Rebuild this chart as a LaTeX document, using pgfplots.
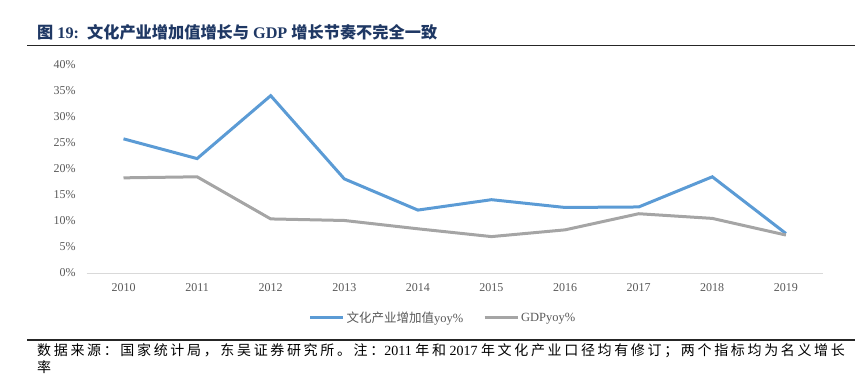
\documentclass[border=0pt]{standalone}
\usepackage{pgfplots}
\pgfplotsset{compat=1.18}
\usepackage{fontspec}
\setmainfont{Liberation Serif}
\newfontfamily\cjk{Noto Sans CJK SC}
\newfontfamily\cjkfoot[LetterSpace=19]{Noto Sans CJK SC}
\definecolor{cblue}{HTML}{5B9BD5}
\definecolor{cgray}{HTML}{A5A5A5}
\definecolor{titleblue}{RGB}{31,56,100}
\definecolor{labgray}{HTML}{595959}
\begin{document}
\begin{tikzpicture}[x=1pt,y=1pt]
\useasboundingbox (0,0) rectangle (867,375);
% title
\node[anchor=west, inner sep=0pt, text=titleblue, font=\fontsize{16.2}{16.2}\selectfont\bfseries] at (37,343)
  {{\cjk 图} 19:\ \ {\cjk 文化产业增加值增长与} GDP {\cjk 增长节奏不完全一致}};
\draw[line width=1.6pt, black!85] (27,329.5) -- (855,329.5);
\draw[line width=1.6pt, black!85] (27,35) -- (855,35);
% footer
\node[anchor=west, inner sep=0pt, font=\fontsize{14}{14}\selectfont] at (37,24)
  {{\cjkfoot 数据来源：国家统计局，东吴证券研究所。注：}2011 {\cjkfoot 年和} 2017 {\cjkfoot 年文化产业口径均有修订；两个指标均为名义增长}};
\node[anchor=west, inner sep=0pt, font=\fontsize{14}{14}\selectfont] at (37,7.5) {{\cjkfoot 率}};
\begin{axis}[
  at={(86.7pt,102pt)}, anchor=south west,
  scale only axis, width=736pt, height=208pt,
  xmin=2009.5, xmax=2019.5, ymin=0, ymax=40,
  xtick={2010,...,2019}, ytick={0,5,...,40},
  axis x line*=bottom, axis y line*=left,
  x axis line style={draw=black!15, line width=0.8pt, -},
  y axis line style={draw=none},
  tick style={draw=none}, major tick length=0pt,
  /pgf/number format/assume math mode=true,
  /pgf/number format/1000 sep={},
  tick label style={font=\fontsize{12}{12}\selectfont, text=labgray, inner sep=0pt},
  yticklabel={\pgfmathprintnumber{\tick}\%},
  yticklabel style={anchor=east, xshift=-11pt},
  xticklabel style={anchor=north, yshift=-10.5pt},
  legend style={at={(0.484,-0.216)}, anchor=center, draw=none, fill=none,
    legend columns=2, font=\fontsize{12.5}{12.5}\selectfont, text=labgray,
    /tikz/every even column/.append style={column sep=18pt}},
  legend image code/.code={\draw[#1] (0pt,0pt) -- (33pt,0pt);},
  clip=false,
]
\addplot[cblue, line width=3pt, line join=miter] coordinates {
(2010,25.8) (2011,22.0) (2012,34.1) (2013,18.1) (2014,12.1)
(2015,14.1) (2016,12.6) (2017,12.7) (2018,18.5) (2019,7.6)};
\addlegendentry{{\cjk 文化产业增加值}yoy\%}
\addplot[cgray, line width=3pt] coordinates {
(2010,18.3) (2011,18.5) (2012,10.4) (2013,10.1) (2014,8.5)
(2015,7.0) (2016,8.3) (2017,11.4) (2018,10.5) (2019,7.3)};
\addlegendentry{GDPyoy\%}
\end{axis}
\end{tikzpicture}
\end{document}
